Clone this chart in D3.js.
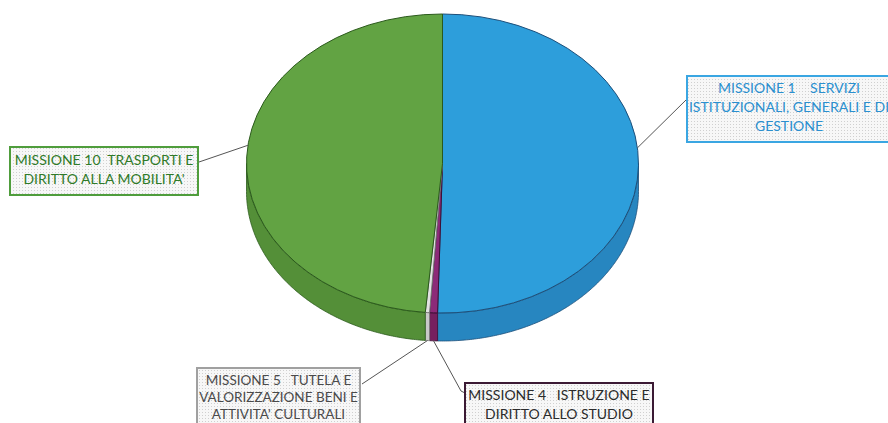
<!DOCTYPE html>
<html lang="it">
  <head>
    <meta charset="utf-8">
    <title>Missioni - torta 3D</title>
    <script src="https://cdn.jsdelivr.net/npm/d3@7"></script>
    <style>
      body { margin: 0; background: #fff; }
      text { font-family: Lato, "Liberation Sans Narrow", sans-serif; white-space: pre; }
    </style>
  </head>
  <body>
    <script>
      // data (shares in percent, order = clockwise from 12 o'clock)
      var missions = ["MISSIONE 1", "MISSIONE 4", "MISSIONE 5", "MISSIONE 10"];
      var values = [50.4, 0.65, 0.35, 48.6];
      var topColors = ["#2d9edb", "#8c2a78", "#e2e2e2", "#62a343"];
      var sideColors = ["#2786c0", "#76205f", "#c9c9c9", "#548f38"];
      var edgeColors = ["#1d4f7a", "#3d0f35", "#777777", "#2b5a1c"];
      var labelLines = [
        ["MISSIONE 1    SERVIZI", "ISTITUZIONALI, GENERALI E DI", "GESTIONE"],
        ["MISSIONE 4   ISTRUZIONE E", "DIRITTO ALLO STUDIO"],
        ["MISSIONE 5   TUTELA E", "VALORIZZAZIONE BENI E", "ATTIVITA' CULTURALI"],
        ["MISSIONE 10  TRASPORTI E", "DIRITTO ALLA MOBILITA'"]
      ];
      var labelText = ["#2a8fcf", "#2b2b2b", "#4a4a4a", "#2f7a28"];
      var labelBorder = ["#3aa6e2", "#3b1a34", "#a0a0a0", "#4f9d3c"];

      var w = 888, h = 423;
      var cx = 442.5, cy = 163.5, rx = 196, ry = 149.5, depth = 28;

      // label boxes: x, y, width, height, anchor angle (deg), anchor on bottom of side?, leader bend
      var boxes = [
        { x: 687, y: 76, w: 210, h: 66, ang: 84, bottom: false, leader: [[686, 100]], fs: 14, first: 17, lh: 19 },
        { x: 465, y: 383, w: 188, h: 50, ang: null, bottom: true, leader: [[461, 391], [465, 393]], fs: 14, first: 17, lh: 19 },
        { x: 197, y: 368, w: 163, h: 70, ang: null, bottom: true, leader: [[362, 384]], fs: 13.5, first: 17, lh: 17 },
        { x: 10, y: 147, w: 188, h: 48, ang: 277, bottom: false, leader: [[199, 162]], fs: 14, first: 18, lh: 19 }
      ];

      var svg = d3.select("body").append("svg")
        .attr("width", w)
        .attr("height", h);

      var defs = svg.append("defs");
      var pat = defs.append("pattern")
        .attr("id", "dots")
        .attr("width", 3).attr("height", 3)
        .attr("patternUnits", "userSpaceOnUse");
      pat.append("rect").attr("width", 3).attr("height", 3).attr("fill", "#f7f7f7");
      pat.append("rect").attr("x", 1).attr("y", 1).attr("width", 1).attr("height", 1).attr("fill", "#d0d0d0");

      var pie = d3.pie().sort(null).value(function(d) { return d; });
      var arcs = pie(values);

      function pt(a, dy) {
        return [cx + rx * Math.sin(a), cy - ry * Math.cos(a) + (dy || 0)];
      }

      var line = d3.line();

      // side walls (only the front half is visible)
      arcs.forEach(function(d, i) {
        var a0 = Math.max(d.startAngle, Math.PI / 2);
        var a1 = Math.min(d.endAngle, 3 * Math.PI / 2);
        if (a1 <= a0) return;
        var n = Math.max(2, Math.ceil((a1 - a0) / 0.01));
        var topPts = d3.range(n + 1).map(function(k) { return pt(a0 + (a1 - a0) * k / n, 0); });
        var botPts = topPts.slice().reverse().map(function(p) { return [p[0], p[1] + depth]; });
        svg.append("path")
          .attr("d", line(topPts.concat(botPts)) + "Z")
          .attr("fill", sideColors[i])
          .attr("stroke", edgeColors[i])
          .attr("stroke-width", 0.8);
      });

      // top faces: circular arcs squashed into an ellipse
      var arcGen = d3.arc().innerRadius(0).outerRadius(rx);
      var topG = svg.append("g")
        .attr("transform", "translate(" + cx + "," + cy + ") scale(1," + (ry / rx) + ")");
      topG.selectAll("path")
        .data(arcs)
        .enter()
        .append("path")
        .attr("d", arcGen)
        .attr("fill", function(d, i) { return topColors[i]; })
        .attr("stroke", function(d, i) { return edgeColors[i]; })
        .attr("stroke-width", 1)
        .attr("vector-effect", "non-scaling-stroke");

      // labels with leader lines
      boxes.forEach(function(b, i) {
        var d = arcs[i];
        var anchor;
        if (b.bottom) {
          anchor = pt((d.startAngle + d.endAngle) / 2, depth);
        } else {
          anchor = pt(b.ang * Math.PI / 180, 0);
        }
        svg.append("path")
          .attr("d", line([anchor].concat(b.leader)))
          .attr("fill", "none")
          .attr("stroke", "#555")
          .attr("stroke-width", 1);

        svg.append("rect")
          .attr("x", b.x).attr("y", b.y)
          .attr("width", b.w).attr("height", b.h)
          .attr("fill", "url(#dots)")
          .attr("stroke", labelBorder[i])
          .attr("stroke-width", 2);

        var t = svg.append("text")
          .attr("text-anchor", "middle")
          .attr("font-size", b.fs)
          .attr("fill", labelText[i]);
        labelLines[i].forEach(function(s, k) {
          t.append("tspan")
            .attr("x", b.x + b.w / 2 - (i == 0 ? 3 : 0))
            .attr("y", b.y + b.first + k * b.lh)
            .text(s);
        });
      });
    </script>
  </body>
</html>
